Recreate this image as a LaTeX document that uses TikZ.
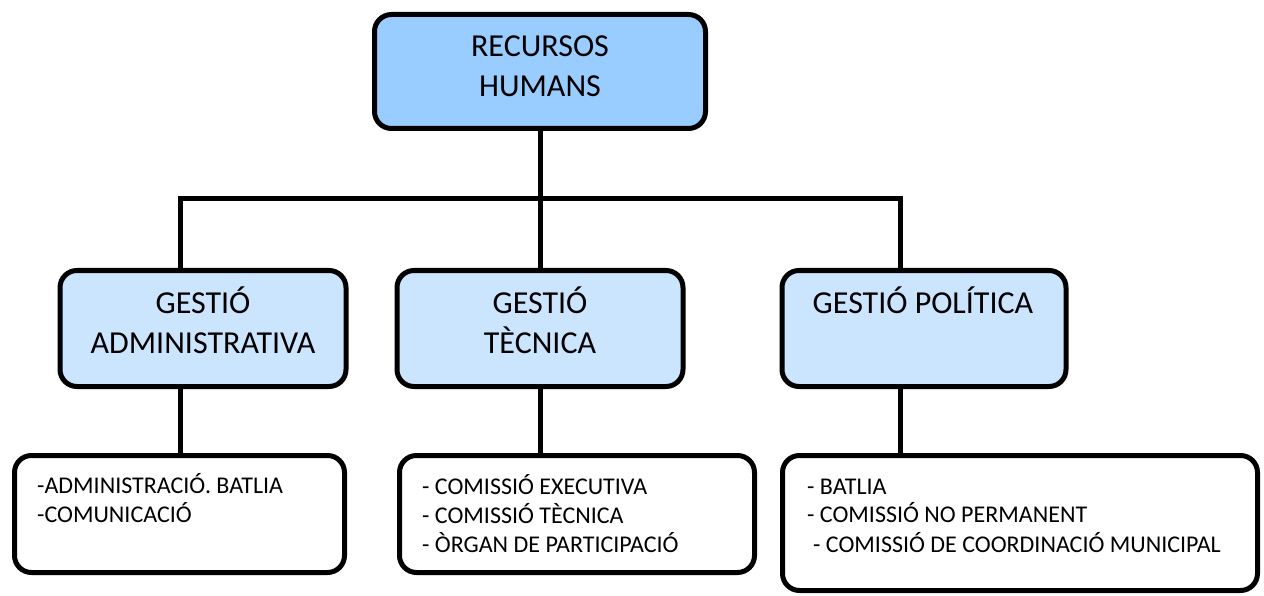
\documentclass[tikz,border=0pt]{standalone}
\usepackage{fontspec}
\setmainfont{Carlito}
\definecolor{topblue}{HTML}{99CCFF}
\definecolor{midblue}{HTML}{CCE5FF}
\begin{document}
\begin{tikzpicture}[x=1pt,y=-1pt,
  box/.style={draw=black, line width=5pt, rounded corners=17pt, inner sep=0pt},
  conn/.style={draw=black, line width=5pt},
  big/.style={font=\fontsize{32}{36}\selectfont, inner sep=0pt, anchor=base},
  small/.style={font=\fontsize{24}{28}\selectfont, inner sep=0pt, anchor=base west}]
\useasboundingbox (0,0) rectangle (1264,596);
% boxes geometry (invisible first pass for anchors)
\path
  (540,71.5) node[box, draw=none, minimum width=331pt, minimum height=114pt] (rh) {}
  (203,328.5) node[box, draw=none, minimum width=286pt, minimum height=116pt] (adm) {}
  (540,328.5) node[box, draw=none, minimum width=286pt, minimum height=116pt] (tec) {}
  (924,328.5) node[box, draw=none, minimum width=284pt, minimum height=116pt] (pol) {}
  (179.5,514) node[box, draw=none, minimum width=330pt, minimum height=117pt] (ladm) {}
  (577,514) node[box, draw=none, minimum width=355pt, minimum height=117pt] (ltec) {}
  (1020,523) node[box, draw=none, minimum width=475pt, minimum height=135pt] (lpol) {};
\coordinate (junc) at (540,199);
\coordinate (jl) at (180,199);
\coordinate (jr) at (900,199);
% connectors
\draw[conn] (rh.south) -- (junc);
\draw[conn] (jl |- adm.north) -- (jl) -- (jr) -- (jr |- pol.north);
\draw[conn] (junc) -- (tec.north);
\draw[conn] (jl |- adm.south) -- (jl |- ladm.north);
\draw[conn] (tec.south) -- (tec.south |- ltec.north);
\draw[conn] (jr |- pol.south) -- (jr |- lpol.north);
% boxes
\node[box, fill=topblue, minimum width=331pt, minimum height=114pt] (rhb) at (rh) {};
\node[box, fill=midblue, minimum width=286pt, minimum height=116pt] (admb) at (adm) {};
\node[box, fill=midblue, minimum width=286pt, minimum height=116pt] (tecb) at (tec) {};
\node[box, fill=midblue, minimum width=284pt, minimum height=116pt] (polb) at (pol) {};
\node[box, fill=white, minimum width=330pt, minimum height=117pt] (ladmb) at (ladm) {};
\node[box, fill=white, minimum width=355pt, minimum height=117pt] (ltecb) at (ltec) {};
\node[box, fill=white, minimum width=475pt, minimum height=135pt] (lpolb) at (lpol) {};
% texts
\node[big] (t1) at (540,57) {RECURSOS};
\node[big] (t2) at (540,97) {HUMANS};
\node[big] (t3) at (203,313) {GESTIÓ};
\node[big] (t4) at (203,353) {ADMINISTRATIVA};
\node[big] (t5) at (540,313) {GESTIÓ};
\node[big] (t6) at (540,353) {TÈCNICA};
\node[big] (t7) at (923,313) {GESTIÓ POLÍTICA};
\node[small] (s1) at (37,493) {-ADMINISTRACIÓ. BATLIA};
\node[small] (s2) at (37,522) {-COMUNICACIÓ};
\node[small] (s3) at (422,494) {- COMISSIÓ EXECUTIVA};
\node[small] (s4) at (422,523) {- COMISSIÓ TÈCNICA};
\node[small] (s5) at (422,552) {- ÒRGAN DE PARTICIPACIÓ};
\node[small] (s6) at (807,494) {- BATLIA};
\node[small] (s7) at (807,522) {- COMISSIÓ NO PERMANENT};
\node[small] (s8) at (813,552) {- COMISSIÓ DE COORDINACIÓ MUNICIPAL};
\end{tikzpicture}
\end{document}
